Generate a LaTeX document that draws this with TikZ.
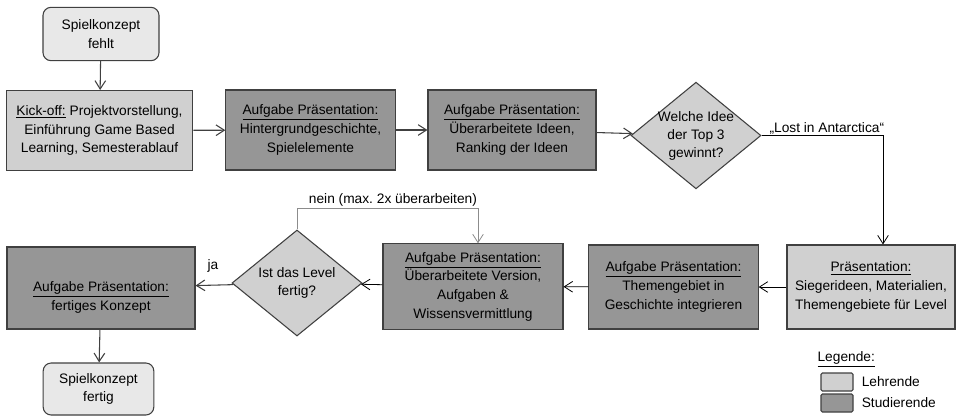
\documentclass[tikz,border=0pt]{standalone}
\usepackage{fontspec}
\setmainfont{Liberation Sans}
\usetikzlibrary{shapes.geometric, arrows.meta, positioning, calc}
\definecolor{lehrcolor}{RGB}{208, 208, 208}
\definecolor{studcolor}{RGB}{150, 150, 150}
\definecolor{startcolor}{RGB}{232, 232, 232}
\definecolor{edgecolor}{RGB}{64, 64, 64}
\definecolor{loopcolor}{RGB}{140, 140, 140}
\frenchspacing

\begin{document}
\begin{tikzpicture}[
    x=0.75pt, y=-0.75pt,
    >={Straight Barb[length=2.2mm, width=2.8mm]},
    every node/.style={font=\fontsize{10.3}{14}\selectfont},
    terminal/.style={rectangle, rounded corners=6pt, draw=edgecolor, line width=0.8pt, fill=startcolor, minimum width=87pt, minimum height=40pt, align=center},
    lehr/.style={rectangle, draw=edgecolor, line width=0.8pt, fill=lehrcolor, minimum height=60pt, align=center, inner sep=2pt},
    stud/.style={rectangle, draw=edgecolor, line width=0.8pt, fill=studcolor, minimum height=60pt, align=center, inner sep=2pt},
    decision/.style={diamond, draw=edgecolor, line width=0.8pt, fill=lehrcolor, minimum width=97.5pt, minimum height=80pt, inner sep=-7pt, align=center, font=\fontsize{10.3}{13.5}\selectfont},
    arrow/.style={->, edgecolor, line width=0.8pt},
    label/.style={inner sep=1pt}
]
\useasboundingbox (0,0) rectangle (956,415);

% === Top row ===
\node[terminal] (start) at (101, 34) {Spielkonzept\\fehlt};
\node[lehr, minimum width=140pt] (kickoff) at (99.5, 130.5) {\underline{Kick-off:} Projektvorstellung,\\Einführung Game Based\\Learning, Semesterablauf};
\node[stud, minimum width=127pt] (story) at (310.5, 130) {\underline{Aufgabe Präsentation:}\\Hintergrundgeschichte,\\Spielelemente};
\node[stud, minimum width=126pt] (ranking) at (512, 130) {\underline{Aufgabe Präsentation:}\\Überarbeitete Ideen,\\Ranking der Ideen};
\node[decision] (winner) at (696, 135.5) {Welche Idee\\der Top 3\\gewinnt?};

% === Bottom row ===
\node[lehr, minimum width=126pt, minimum height=63pt] (praes) at (871, 287) {\underline{Präsentation:}\\Siegerideen, Materialien,\\Themengebiete für Level};
\node[stud, minimum width=127pt, minimum height=63pt] (thema) at (673.5, 287) {\underline{Aufgabe Präsentation:}\\Themengebiet in\\Geschichte integrieren};
\node[stud, minimum width=135pt, minimum height=64pt] (version) at (473, 286.5) {\underline{Aufgabe Präsentation:}\\Überarbeitete Version,\\Aufgaben \&\\Wissensvermittlung};
\node[decision, minimum height=79.5pt] (fertig) at (297, 283) {Ist das Level\\fertig?};
\node[stud, minimum width=141pt, minimum height=61.5pt, text height=36pt] (konzept) at (101, 288) {\underline{Aufgabe Präsentation:}\\fertiges Konzept};
\node[terminal, minimum width=83pt, minimum height=39pt] (ende) at (98.5, 389) {Spielkonzept\\fertig};

% Labels
\node[label, anchor=south west] (lost) at (768, 135.5) {„Lost in Antarctica“};
\node[label] (ja) at (213, 266) {ja};
\coordinate (neinL) at (297, 208);
\coordinate (neinR) at (478, 208);
\node[label, anchor=south] (nein) at ($(neinL)!0.53!(neinR)$) {nein (max. 2x überarbeiten)};
\coordinate (corner) at (883, 135.5);

% Arrows
\draw[arrow] (start) -- (kickoff);
\draw[arrow] (kickoff) -- (story);
\draw[arrow] (story) -- (ranking);
\draw[arrow] (ranking) -- (winner);
\draw[arrow, black, line width=0.6pt] (winner.east) -- (corner) -- (corner |- praes.north);
\draw[arrow, black, line width=0.6pt] (praes) -- (thema);
\draw[arrow, black, line width=0.6pt] (thema) -- (version);
\draw[arrow, black, line width=0.6pt] (version) -- (fertig);
\draw[arrow] (fertig) -- (konzept);
\draw[arrow, loopcolor, line width=0.6pt] (fertig.north) -- (neinL) -- (neinR) -- (neinR |- version.north);
\draw[arrow] (konzept) -- (ende);

% Legend
\node[label, anchor=west] (legtitle) at (816, 359) {\underline{Legende:}};
\node[draw=edgecolor, line width=0.8pt, fill=lehrcolor, rounded corners=1pt, minimum width=24pt, minimum height=13.5pt, inner sep=0pt] (leglehr) at (837, 382) {};
\node[draw=edgecolor, line width=0.8pt, fill=studcolor, rounded corners=1pt, minimum width=24pt, minimum height=13.5pt, inner sep=0pt] (legstud) at (837, 403) {};
\node[label, anchor=west, right=5pt of leglehr] (lehrtext) {Lehrende};
\node[label, anchor=west, right=5pt of legstud] (studtext) {Studierende};

\end{tikzpicture}
\end{document}
